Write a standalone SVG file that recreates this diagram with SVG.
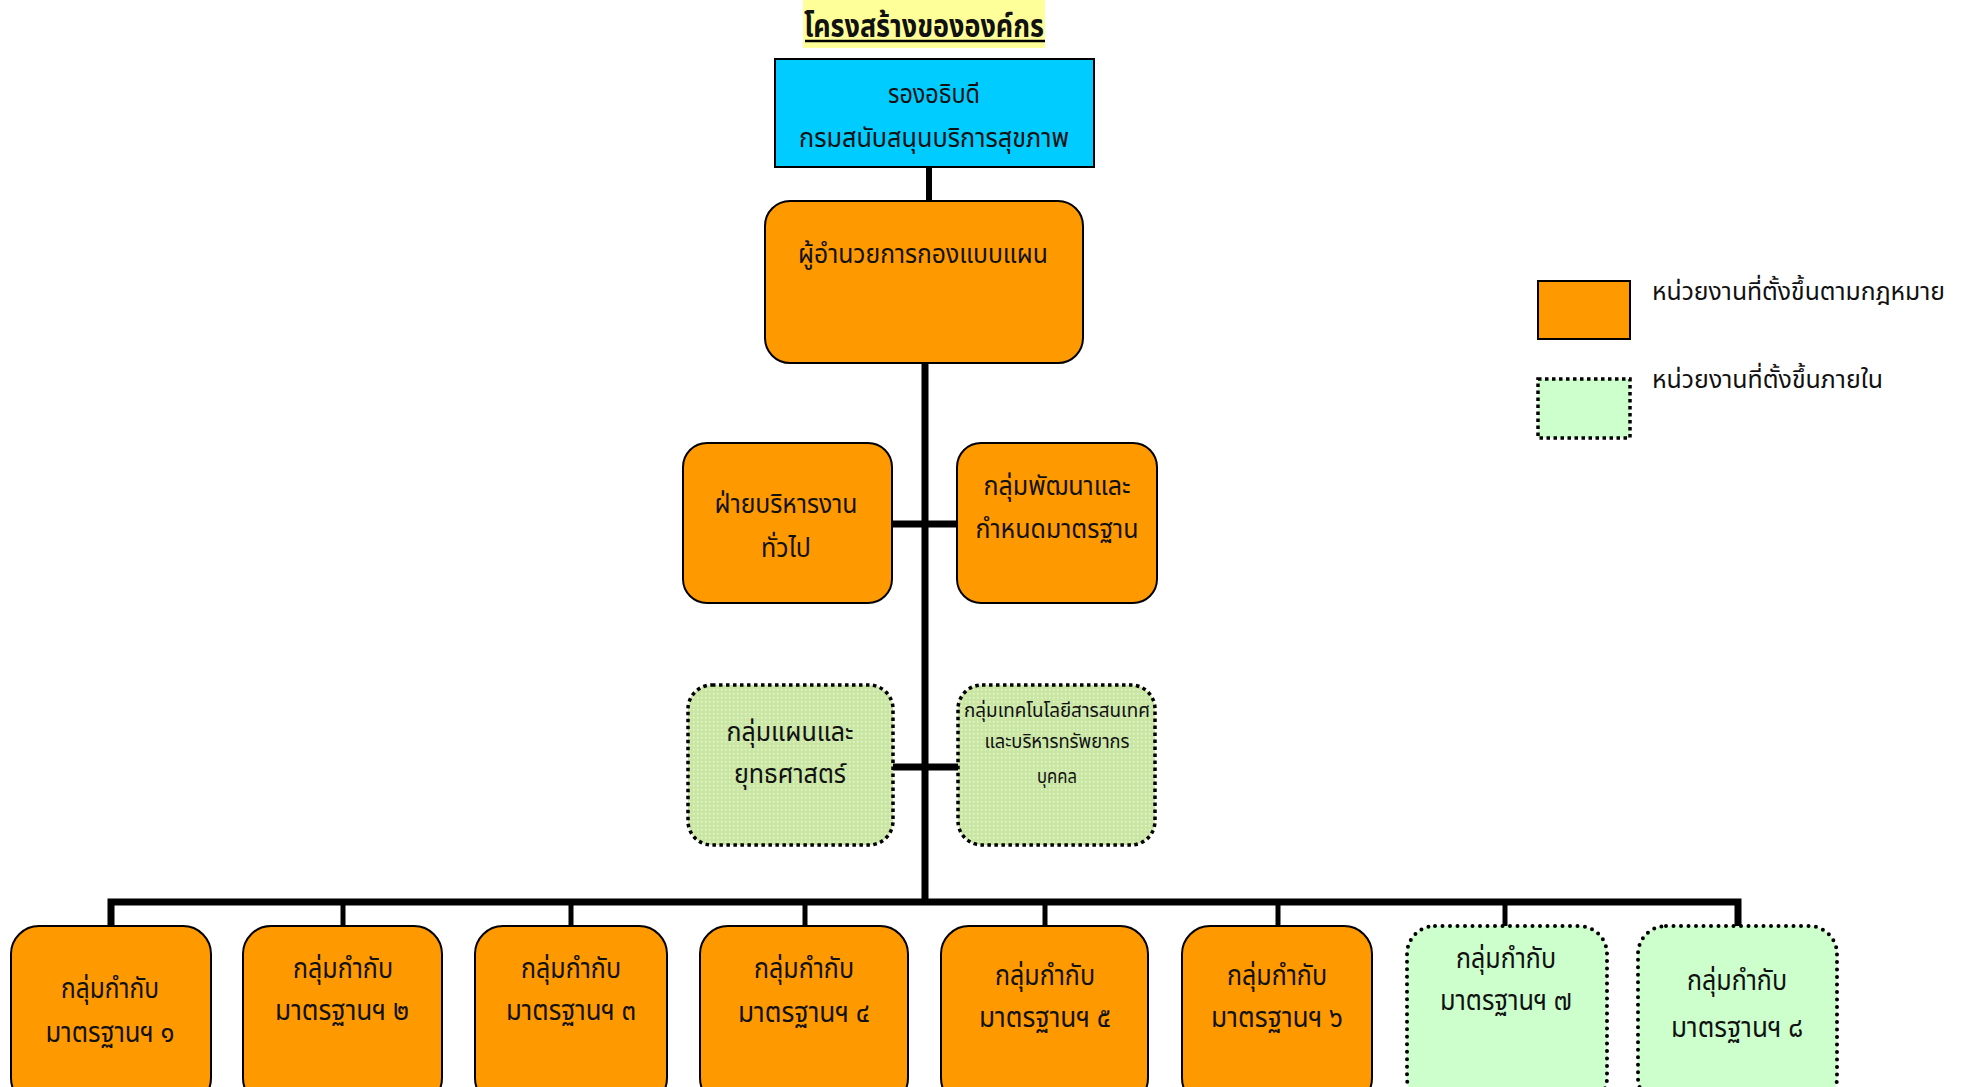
<svg xmlns="http://www.w3.org/2000/svg" width="1975" height="1087" viewBox="0 0 1975 1087">
<style>
text{font-family:"Noto Sans Thai","Noto Sans","Liberation Sans",sans-serif;fill:#111;text-anchor:middle}
.t27{font-size:27px}
.t26{font-size:26px}
.t30{font-size:29px}
.t19{font-size:19px}
.lg{font-size:25px;text-anchor:start}
.org{fill:#ff9900;stroke:#000;stroke-width:2}
.blu{fill:#00ccff;stroke:#000;stroke-width:2}
.gm{fill:url(#dots);stroke:#000;stroke-width:3.5;stroke-dasharray:3.5 3.5}
.gb{fill:#ccffcc;stroke:#000;stroke-width:4;stroke-dasharray:0 7.5;stroke-linecap:round}
.ln{stroke:#000;fill:none}
</style>
<defs>
<pattern id="dots" width="4" height="4" patternUnits="userSpaceOnUse">
<rect width="4" height="4" fill="#c9e6a3"/>
<rect x="1" y="1" width="1.5" height="1.5" fill="#e6f4d4"/>
</pattern>
</defs>

<g id="title">
<rect x="803" y="0" width="242" height="48" fill="#ffff99"/>
<text x="924" y="37" style="font-size:32px;font-weight:bold" textLength="240" lengthAdjust="spacingAndGlyphs">โครงสร้างขององค์กร</text>
<line x1="805" y1="41" x2="1045" y2="41" stroke="#000" stroke-width="2.5"/>
</g>

<g id="connectors">
<line class="ln" x1="929" y1="167" x2="929" y2="201" stroke-width="6"/>
<line class="ln" x1="925" y1="363" x2="925" y2="905" stroke-width="7"/>
<line class="ln" x1="892" y1="524" x2="957" y2="524" stroke-width="7"/>
<line class="ln" x1="893" y1="767" x2="958" y2="767" stroke-width="7"/>
<polyline class="ln" points="111,926 111,902 1738,902 1738,926" stroke-width="7" stroke-linejoin="miter"/>
<line class="ln" x1="343" y1="902" x2="343" y2="926" stroke-width="5"/>
<line class="ln" x1="571" y1="902" x2="571" y2="926" stroke-width="5"/>
<line class="ln" x1="805" y1="902" x2="805" y2="926" stroke-width="5"/>
<line class="ln" x1="1045" y1="902" x2="1045" y2="926" stroke-width="5"/>
<line class="ln" x1="1278" y1="902" x2="1278" y2="926" stroke-width="5"/>
<line class="ln" x1="1505" y1="902" x2="1505" y2="926" stroke-width="5"/>
</g>

<g id="deputy">
<rect class="blu" x="775" y="59" width="319" height="108"/>
<text class="t27" x="934" y="103" textLength="92" lengthAdjust="spacingAndGlyphs">รองอธิบดี</text>
<text class="t27" x="934" y="147" textLength="270" lengthAdjust="spacingAndGlyphs">กรมสนับสนุนบริการสุขภาพ</text>
</g>

<g id="director">
<rect class="org" x="765" y="201" width="318" height="162" rx="25"/>
<text class="t27" x="923" y="263" textLength="250" lengthAdjust="spacingAndGlyphs">ผู้อำนวยการกองแบบแผน</text>
</g>

<g id="admin">
<rect class="org" x="683" y="443" width="209" height="160" rx="24"/>
<text class="t27" x="786" y="513" textLength="143" lengthAdjust="spacingAndGlyphs">ฝ่ายบริหารงาน</text>
<text class="t27" x="786" y="557" textLength="50" lengthAdjust="spacingAndGlyphs">ทั่วไป</text>
</g>

<g id="devstd">
<rect class="org" x="957" y="443" width="200" height="160" rx="24"/>
<text class="t27" x="1057" y="495" textLength="147" lengthAdjust="spacingAndGlyphs">กลุ่มพัฒนาและ</text>
<text class="t27" x="1057" y="538" textLength="163" lengthAdjust="spacingAndGlyphs">กำหนดมาตรฐาน</text>
</g>

<g id="plan">
<rect class="gm" x="688" y="685" width="205" height="160" rx="24"/>
<text class="t26" x="790" y="741" textLength="127" lengthAdjust="spacingAndGlyphs">กลุ่มแผนและ</text>
<text class="t26" x="790" y="783" textLength="112" lengthAdjust="spacingAndGlyphs">ยุทธศาสตร์</text>
</g>

<g id="it">
<rect class="gm" x="958" y="685" width="197" height="160" rx="24"/>
<text class="t19" x="1057" y="717" textLength="186" lengthAdjust="spacingAndGlyphs">กลุ่มเทคโนโลยีสารสนเทศ</text>
<text class="t19" x="1057" y="748" textLength="145" lengthAdjust="spacingAndGlyphs">และบริหารทรัพยากร</text>
<text class="t19" x="1057" y="783" textLength="40" lengthAdjust="spacingAndGlyphs">บุคคล</text>
</g>

<g id="std1">
<rect class="org" x="11" y="926" width="200" height="180" rx="28"/>
<text class="t30" x="110" y="998" textLength="98" lengthAdjust="spacingAndGlyphs">กลุ่มกำกับ</text>
<text class="t30" x="110" y="1042" textLength="129" lengthAdjust="spacingAndGlyphs">มาตรฐานฯ ๑</text>
</g>
<g id="std2">
<rect class="org" x="243" y="926" width="199" height="180" rx="28"/>
<text class="t30" x="343" y="978" textLength="100" lengthAdjust="spacingAndGlyphs">กลุ่มกำกับ</text>
<text class="t30" x="342" y="1020" textLength="134" lengthAdjust="spacingAndGlyphs">มาตรฐานฯ ๒</text>
</g>
<g id="std3">
<rect class="org" x="475" y="926" width="192" height="180" rx="28"/>
<text class="t30" x="571" y="978" textLength="100" lengthAdjust="spacingAndGlyphs">กลุ่มกำกับ</text>
<text class="t30" x="571" y="1020" textLength="130" lengthAdjust="spacingAndGlyphs">มาตรฐานฯ ๓</text>
</g>
<g id="std4">
<rect class="org" x="700" y="926" width="208" height="180" rx="28"/>
<text class="t30" x="804" y="978" textLength="100" lengthAdjust="spacingAndGlyphs">กลุ่มกำกับ</text>
<text class="t30" x="804" y="1022" textLength="132" lengthAdjust="spacingAndGlyphs">มาตรฐานฯ ๔</text>
</g>
<g id="std5">
<rect class="org" x="941" y="926" width="207" height="180" rx="28"/>
<text class="t30" x="1045" y="985" textLength="100" lengthAdjust="spacingAndGlyphs">กลุ่มกำกับ</text>
<text class="t30" x="1045" y="1027" textLength="132" lengthAdjust="spacingAndGlyphs">มาตรฐานฯ ๕</text>
</g>
<g id="std6">
<rect class="org" x="1182" y="926" width="190" height="180" rx="28"/>
<text class="t30" x="1277" y="985" textLength="100" lengthAdjust="spacingAndGlyphs">กลุ่มกำกับ</text>
<text class="t30" x="1277" y="1027" textLength="132" lengthAdjust="spacingAndGlyphs">มาตรฐานฯ ๖</text>
</g>
<g id="std7">
<rect class="gb" x="1407" y="926" width="200" height="180" rx="28"/>
<text class="t30" x="1506" y="968" textLength="100" lengthAdjust="spacingAndGlyphs">กลุ่มกำกับ</text>
<text class="t30" x="1506" y="1010" textLength="132" lengthAdjust="spacingAndGlyphs">มาตรฐานฯ ๗</text>
</g>
<g id="std8">
<rect class="gb" x="1638" y="926" width="199" height="180" rx="28"/>
<text class="t30" x="1737" y="990" textLength="100" lengthAdjust="spacingAndGlyphs">กลุ่มกำกับ</text>
<text class="t30" x="1737" y="1037" textLength="132" lengthAdjust="spacingAndGlyphs">มาตรฐานฯ ๘</text>
</g>

<g id="legend">
<rect class="org" x="1538" y="281" width="92" height="58"/>
<text class="lg" x="1652" y="300" textLength="293" lengthAdjust="spacingAndGlyphs">หน่วยงานที่ตั้งขึ้นตามกฎหมาย</text>
<rect x="1538" y="379" width="92" height="59" fill="#ccffcc" stroke="#000" stroke-width="3.5" stroke-dasharray="3.5 3.5"/>
<text class="lg" x="1652" y="388" textLength="231" lengthAdjust="spacingAndGlyphs">หน่วยงานที่ตั้งขึ้นภายใน</text>
</g>
</svg>
